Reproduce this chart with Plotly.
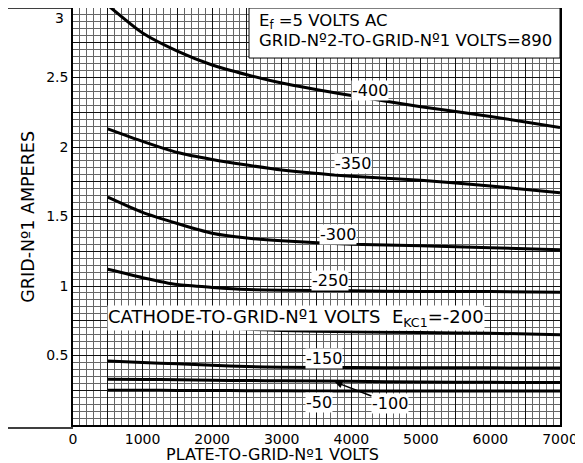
import plotly.graph_objects as go

# Data
plate_volts = [500, 1000, 1500, 2000, 2500, 3000, 4000, 5000, 6000, 7000]
curves = {
    "-400": [3.02, 2.82, 2.69, 2.59, 2.52, 2.46, 2.37, 2.29, 2.22, 2.14],
    "-350": [2.13, 2.04, 1.96, 1.91, 1.87, 1.835, 1.79, 1.76, 1.72, 1.67],
    "-300": [1.64, 1.53, 1.45, 1.38, 1.345, 1.325, 1.30, 1.29, 1.275, 1.26],
    "-250": [1.12, 1.06, 1.01, 0.99, 0.975, 0.97, 0.965, 0.96, 0.96, 0.955],
    "-200": [0.74, 0.73, 0.72, 0.705, 0.69, 0.68, 0.67, 0.665, 0.66, 0.65],
    "-150": [0.46, 0.45, 0.44, 0.43, 0.42, 0.415, 0.413, 0.412, 0.411, 0.41],
    "-100": [0.33, 0.328, 0.325, 0.322, 0.32, 0.318, 0.314, 0.31, 0.307, 0.305],
    "-50":  [0.25, 0.25, 0.249, 0.248, 0.247, 0.246, 0.245, 0.245, 0.244, 0.244],
}
x_ticks = list(range(0, 7001, 500))
x_ticktext = [str(v) if v % 1000 == 0 else "" for v in x_ticks]
y_ticks = [i * 0.25 for i in range(0, 13)]
y_ticktext = ["" if (v == 0 or v == 3 or abs(v * 2 - round(v * 2)) > 1e-9) else ("%g" % v) for v in y_ticks]

# label positions (x, y) for curve labels
label_pos = {
    "-400": (4270, 2.41),
    "-350": (4030, 1.88),
    "-300": (3810, 1.37),
    "-250": (3700, 1.04),
    "-150": (3610, 0.48),
    "-50": (3540, 0.165),
}

FONT = "DejaVu Sans"
fig = go.Figure()
for name, ys in curves.items():
    fig.add_trace(go.Scatter(x=plate_volts, y=ys, mode="lines",
                             line=dict(color="black", width=3, shape="spline", smoothing=0.6),
                             showlegend=False, hoverinfo="skip"))

for name, (lx, ly) in label_pos.items():
    fig.add_annotation(x=lx, y=ly, text=name, showarrow=False,
                       font=dict(family=FONT, size=16, color="black"),
                       bgcolor="white", borderpad=0)

fig.add_annotation(x=3764, y=0.31, ax=4555, ay=0.158, axref="x", ayref="y",
                   text="-100", showarrow=True, arrowhead=2, arrowsize=1, arrowwidth=1.5,
                   arrowcolor="black", font=dict(family=FONT, size=16, color="black"),
                   bgcolor="white", borderpad=0)

fig.add_annotation(x=490, y=0.77, xanchor="left", showarrow=False,
                   text="CATHODE-TO-GRID-Nº1 VOLTS  E<sub>KC1</sub>=-200",
                   font=dict(family=FONT, size=18, color="black"),
                   bgcolor="white", borderpad=0)

# info box
fig.add_shape(type="rect", x0=2530, x1=7000, y0=2.64, y1=3.0, xref="x", yref="y",
              fillcolor="white", line=dict(color="black", width=1), layer="above")
fig.add_annotation(x=2640, y=2.90, xanchor="left", showarrow=False,
                   text="E<sub>f</sub> =5 VOLTS AC",
                   font=dict(family=FONT, size=16.5, color="black"))
fig.add_annotation(x=2640, y=2.765, xanchor="left", showarrow=False,
                   text="GRID-Nº2-TO-GRID-Nº1 VOLTS=890",
                   font=dict(family=FONT, size=16.5, color="black"))

# "3" y-label shifted down, axis titles
fig.add_annotation(xref="paper", yref="y", x=-0.014, y=3, xanchor="right", yshift=-10,
                   text="3", showarrow=False, font=dict(family=FONT, size=14, color="black"))
fig.add_annotation(xref="paper", yref="paper", x=-0.094, y=0.5, textangle=-90,
                   xanchor="center", yanchor="middle",
                   text="GRID-Nº1 AMPERES", showarrow=False,
                   font=dict(family=FONT, size=17.5, color="black"))
fig.add_annotation(xref="paper", yref="paper", x=0.41, y=-0.070,
                   xanchor="center", yanchor="middle",
                   text="PLATE-TO-GRID-Nº1 VOLTS", showarrow=False,
                   font=dict(family=FONT, size=16, color="black"))

# outer frame around y-title area
fig.add_shape(type="path", xref="paper", yref="paper",
              path="M 0,1 L -0.1396,1 L -0.1396,-0.007 L 0,-0.007",
              line=dict(color="black", width=1.5))

fig.update_xaxes(range=[0, 7000], tickvals=x_ticks, ticktext=x_ticktext,
                 showgrid=True, gridcolor="#111", gridwidth=1.4,
                 minor=dict(dtick=100, tick0=0, showgrid=True, gridcolor="#666", gridwidth=0.8),
                 showline=True, linecolor="black", linewidth=1.5, mirror=True,
                 ticks="", zeroline=False, automargin=False,
                 tickfont=dict(family=FONT, size=14, color="black"))
fig.update_yaxes(range=[0, 3], tickvals=y_ticks, ticktext=y_ticktext,
                 showgrid=True, gridcolor="#111", gridwidth=1.4,
                 minor=dict(dtick=0.05, tick0=0, showgrid=True, gridcolor="#666", gridwidth=0.8),
                 showline=True, linecolor="black", linewidth=1.5, mirror=True,
                 ticks="", zeroline=False, automargin=False,
                 tickfont=dict(family=FONT, size=14, color="black"))

# page body has an 8px default margin, so the figure is sized to fit inside the window
fig.update_layout(width=575, height=455, plot_bgcolor="white", paper_bgcolor="white",
                  margin=dict(l=65, r=23, t=0, b=38), showlegend=False)

fig.write_html("out.html")
